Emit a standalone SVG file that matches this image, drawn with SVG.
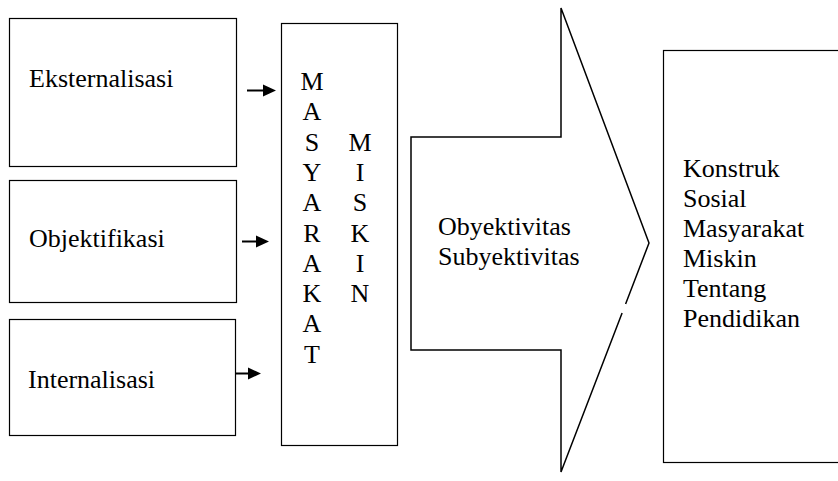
<svg xmlns="http://www.w3.org/2000/svg" width="838" height="481" viewBox="0 0 838 481">
<style>
.box{fill:#fff;stroke:#000;stroke-width:1.2}
.t{font-family:"Liberation Serif",Tinos,"Times New Roman","DejaVu Serif",serif;font-size:26px;fill:#000}
.c{text-anchor:middle}
.conn{stroke:#000;stroke-width:2;fill:none}
.shape{fill:#fff;stroke:#000;stroke-width:1.5;stroke-linejoin:miter}
</style>
<defs>
<marker id="ah" markerWidth="14" markerHeight="12" refX="14" refY="6" orient="auto" markerUnits="userSpaceOnUse">
<path d="M0,0 L14,6 L0,12 Z" fill="#000"/>
</marker>
</defs>
<rect width="838" height="481" fill="#fff"/>
<g id="eksternalisasi">
<rect class="box" x="9.5" y="18.5" width="227" height="148"/>
<text class="t" x="29" y="87">Eksternalisasi</text>
</g>
<g id="objektifikasi">
<rect class="box" x="9.5" y="180.5" width="227" height="122"/>
<text class="t" x="29" y="247">Objektifikasi</text>
</g>
<g id="internalisasi">
<rect class="box" x="9.5" y="319.5" width="226" height="116"/>
<text class="t" x="28" y="388">Internalisasi</text>
</g>
<g id="masyarakat-miskin">
<rect class="box" x="281.5" y="23.5" width="116" height="422"/>
<text class="t c" x="312" y="90">M</text>
<text class="t c" x="312" y="120">A</text>
<text class="t c" x="312" y="151">S</text>
<text class="t c" x="312" y="181">Y</text>
<text class="t c" x="312" y="211">A</text>
<text class="t c" x="312" y="242">R</text>
<text class="t c" x="312" y="272">A</text>
<text class="t c" x="312" y="302">K</text>
<text class="t c" x="312" y="332">A</text>
<text class="t c" x="312" y="363">T</text>
<text class="t c" x="360" y="151">M</text>
<text class="t c" x="360" y="181">I</text>
<text class="t c" x="360" y="211">S</text>
<text class="t c" x="360" y="242">K</text>
<text class="t c" x="360" y="272">I</text>
<text class="t c" x="360" y="302">N</text>
</g>
<g id="obyektivitas-arrow">
<path d="M411,137 L561,137 L561,8 L649,243 L561,472 L561,350 L411,350 Z" fill="#fff"/>
<path class="shape" fill="none" d="M625.6,304 L649,243 L561,8 L561,137 L411,137 L411,350 L561,350 L561,472 L622.1,313"/>
<text class="t" x="438" y="235">Obyektivitas</text>
<text class="t" x="438" y="265">Subyektivitas</text>
</g>
<g id="konstruk-sosial">
<rect class="box" x="663.5" y="50.5" width="190" height="412"/>
<text class="t" x="683" y="177">Konstruk</text>
<text class="t" x="683" y="207">Sosial</text>
<text class="t" x="683" y="237">Masyarakat</text>
<text class="t" x="683" y="267">Miskin</text>
<text class="t" x="683" y="297">Tentang</text>
<text class="t" x="683" y="327">Pendidikan</text>
</g>
<g id="connectors">
<line class="conn" x1="247" y1="90.5" x2="264" y2="90.5"/>
<path d="M263,84.5 L276,90.5 L263,96.5 Z" fill="#000"/>
<line class="conn" x1="242" y1="241.5" x2="257" y2="241.5"/>
<path d="M256,235.5 L269,241.5 L256,247.5 Z" fill="#000"/>
<line class="conn" x1="235" y1="373.5" x2="249" y2="373.5"/>
<path d="M248,367.5 L261,373.5 L248,379.5 Z" fill="#000"/>
</g>
</svg>
